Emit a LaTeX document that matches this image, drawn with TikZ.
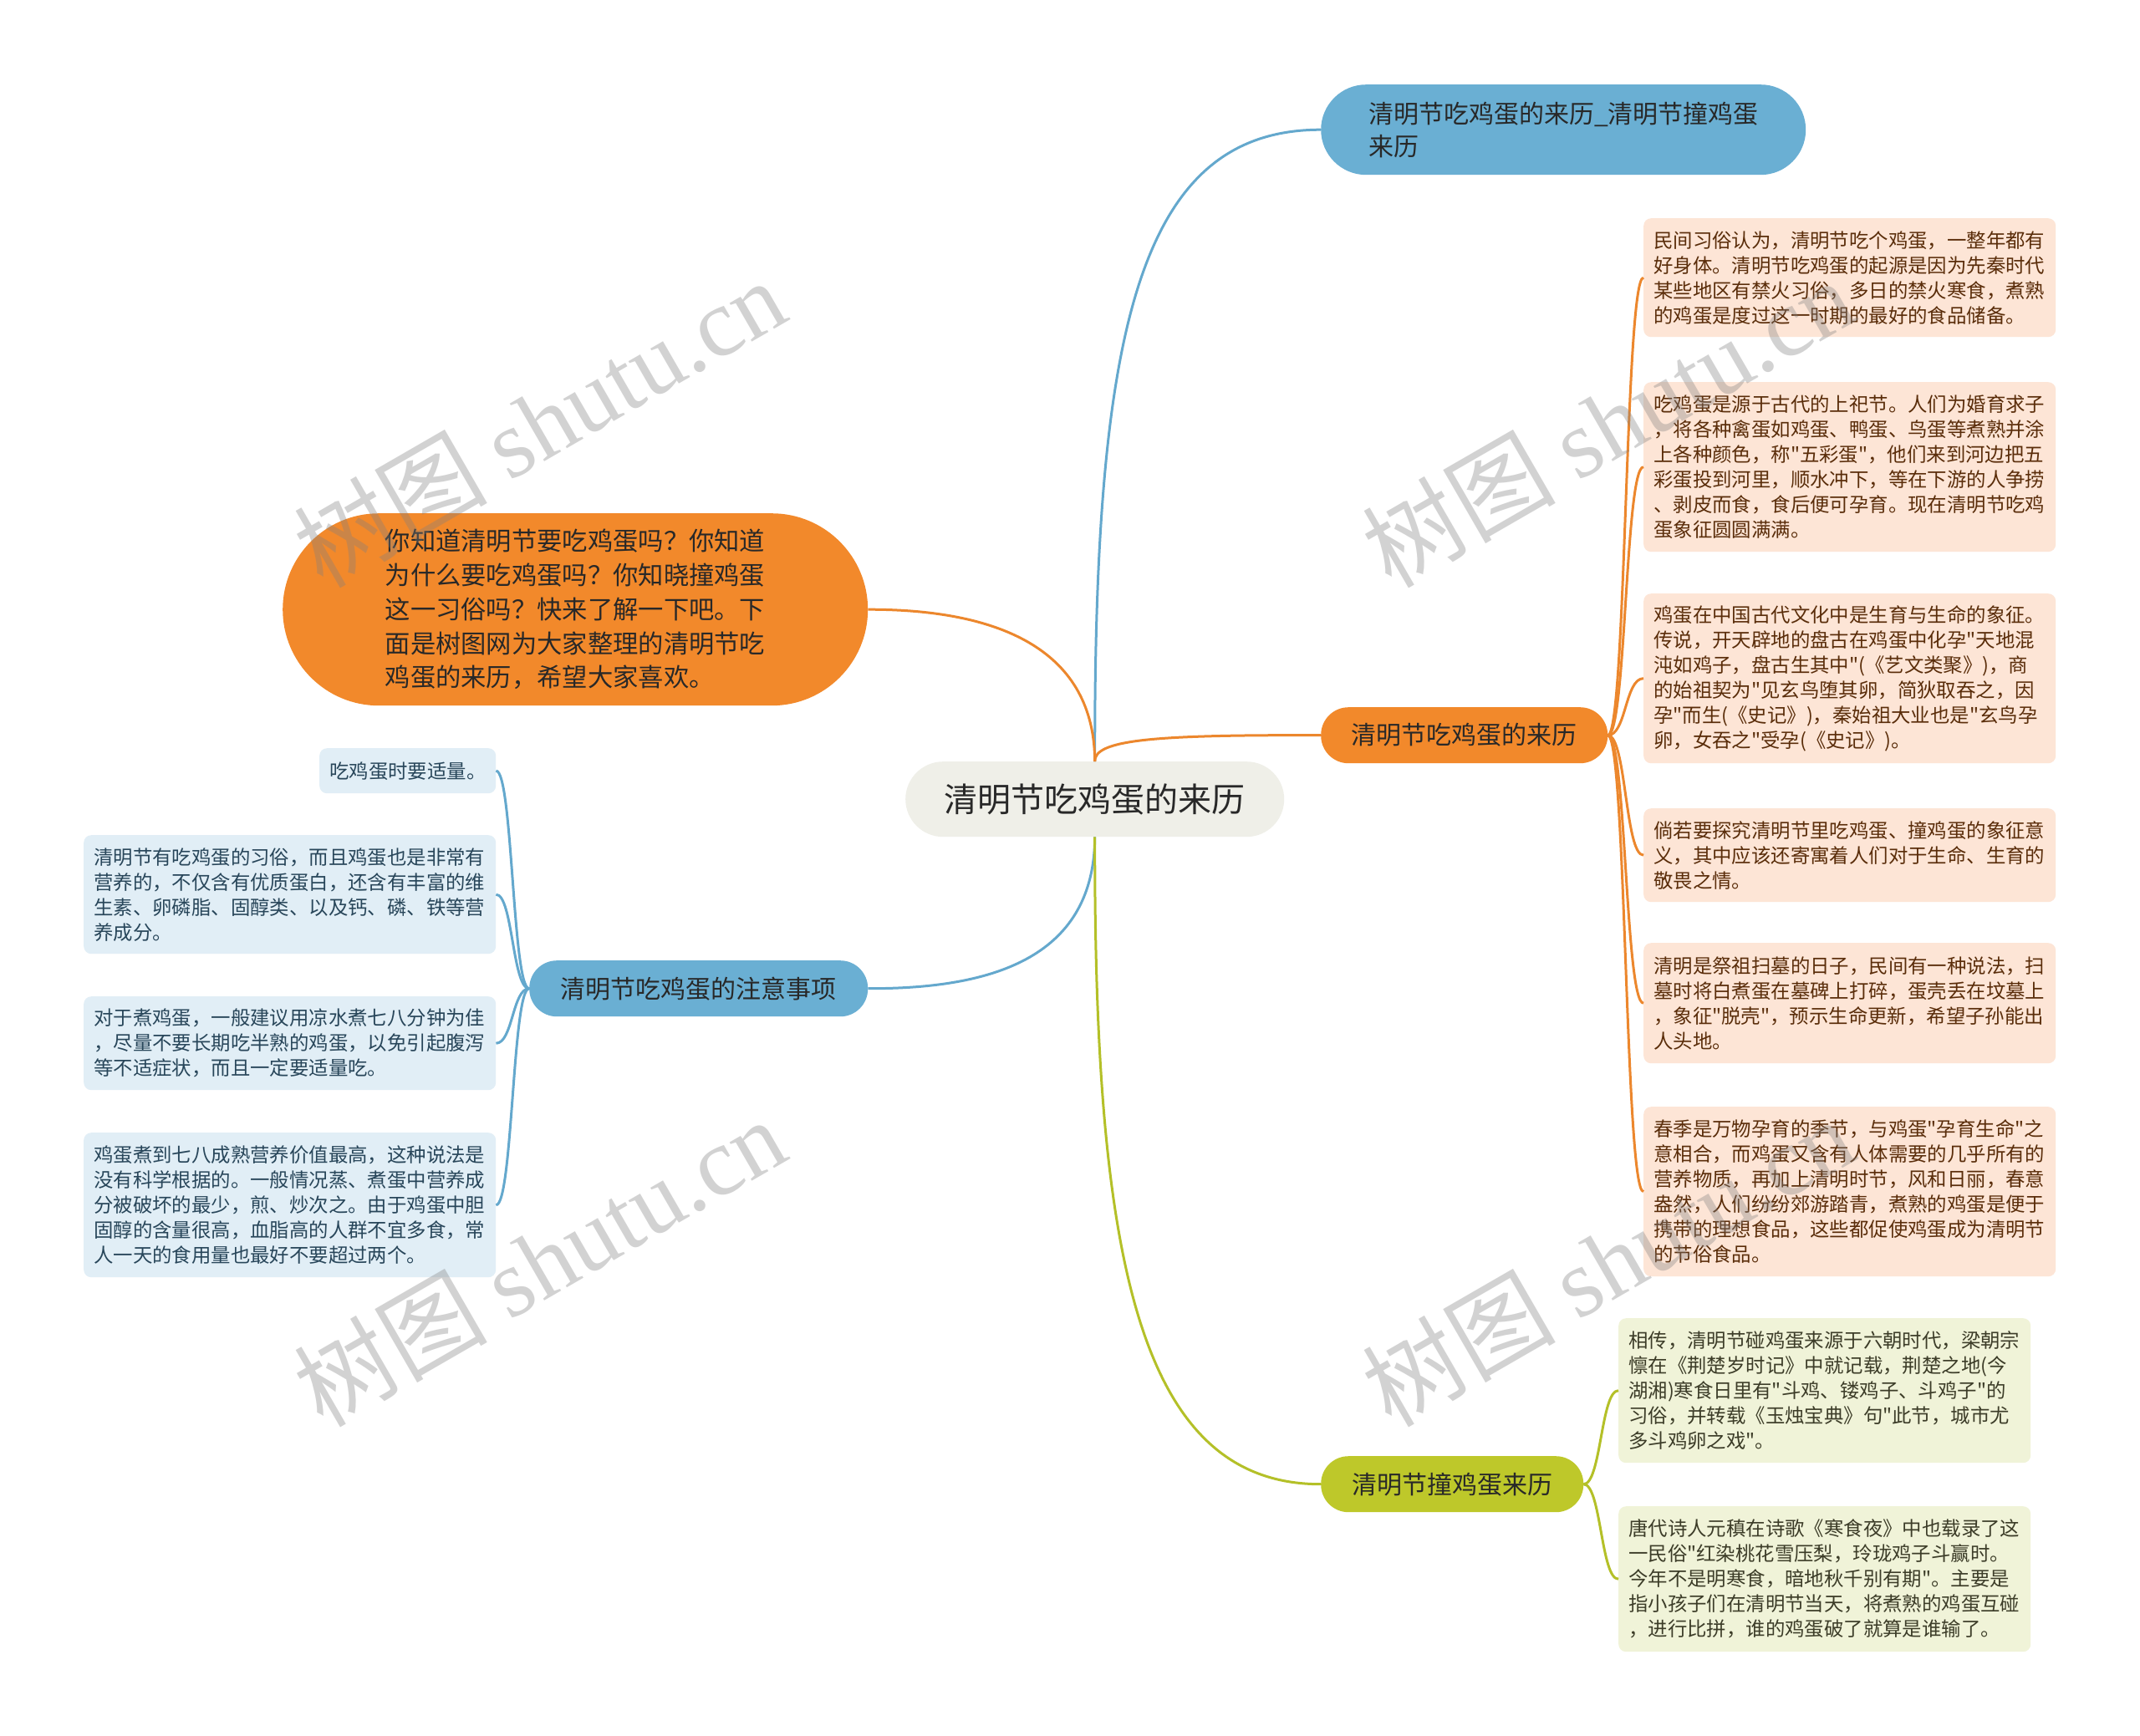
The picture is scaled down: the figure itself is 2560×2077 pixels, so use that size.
\documentclass[tikz,border=0pt]{standalone}
\usepackage{fontspec}
\usetikzlibrary{calc}
\setmainfont{Noto Sans CJK SC}
\newfontfamily\cjk{Noto Sans CJK SC}
\newfontfamily\wmlat{Liberation Serif}
\definecolor{bluebr}{RGB}{106,175,211}
\definecolor{bluel}{RGB}{100,168,205}
\definecolor{orabr}{RGB}{242,137,43}
\definecolor{oral}{RGB}{236,135,45}
\definecolor{grnbr}{RGB}{190,200,42}
\definecolor{grnl}{RGB}{180,192,40}
\definecolor{cfill}{RGB}{239,239,232}
\definecolor{oleaf}{RGB}{253,229,214}
\definecolor{gleaf}{RGB}{240,243,216}
\definecolor{bleaf}{RGB}{225,238,246}
\definecolor{otext}{RGB}{90,45,10}
\definecolor{gtext}{RGB}{60,60,40}
\definecolor{btext}{RGB}{40,70,90}
\definecolor{mtext}{RGB}{40,40,40}
\begin{document}
\begin{tikzpicture}[x=1pt,y=-1pt,
  leaf/.style={rectangle, rounded corners=9pt, anchor=north west, align=left,
    inner xsep=12pt, inner ysep=0pt, text width=469pt,
    font=\cjk\fontsize{23.4}{30}\selectfont},
  oleafbox/.style={leaf, fill=oleaf, text=otext},
  gleafbox/.style={leaf, fill=gleaf, text=gtext},
  bleafbox/.style={leaf, fill=bleaf, text=btext},
  branch/.style={rectangle, rounded corners=33pt, anchor=north west, inner sep=0pt,
    minimum height=67pt, text=mtext, font=\cjk\fontsize{30}{36}\selectfont},
  conn/.style={line width=3pt},
  wm/.style={rotate=30, text=gray, opacity=0.35, font=\cjk\fontsize{116}{124}\selectfont}
]
\useasboundingbox (0,0) rectangle (2560,2077);
\fill[white] (0,0) rectangle (2560,2077);

% center
\node[rectangle, rounded corners=45pt, fill=cfill, anchor=north west, inner sep=0pt,
  minimum width=453pt, minimum height=90pt, text=mtext,
  font=\cjk\fontsize{40}{48}\selectfont] (c) at (1083,911) {清明节吃鸡蛋的来历};

% top blue
\node[rectangle, rounded corners=54pt, fill=bluebr, anchor=north west, align=left,
  inner xsep=57pt, inner ysep=0pt, text width=466pt, minimum height=108pt, text=mtext,
  font=\cjk\fontsize{30}{39}\selectfont] (tb) at (1580,101)
  {清明节吃鸡蛋的来历\_清明节撞鸡蛋\\来历};

% intro
\node[rectangle, rounded corners=115pt, fill=orabr, anchor=north west, align=left,
  inner xsep=122.5pt, inner ysep=0pt, text width=455pt, minimum height=230pt, text=mtext,
  font=\cjk\fontsize{30.3}{40.8}\selectfont] (intro) at (338,614)
  {你知道清明节要吃鸡蛋吗？你知道\\为什么要吃鸡蛋吗？你知晓撞鸡蛋\\这一习俗吗？快来了解一下吧。下\\面是树图网为大家整理的清明节吃\\鸡蛋的来历，希望大家喜欢。};

% branches
\node[branch, fill=orabr, minimum width=343pt] (ob) at (1580,846) {清明节吃鸡蛋的来历};
\node[branch, fill=grnbr, minimum width=314pt] (gb) at (1580,1742) {清明节撞鸡蛋来历};
\node[branch, fill=bluebr, minimum width=405pt] (bb) at (633,1149) {清明节吃鸡蛋的注意事项};

% orange leaves
\node[oleafbox, minimum height=142pt] (o1) at (1966,261)
 {民间习俗认为，清明节吃个鸡蛋，一整年都有\\好身体。清明节吃鸡蛋的起源是因为先秦时代\\某些地区有禁火习俗，多日的禁火寒食，煮熟\\的鸡蛋是度过这一时期的最好的食品储备。};
\node[oleafbox, minimum height=203pt] (o2) at (1966,457)
 {吃鸡蛋是源于古代的上祀节。人们为婚育求子\\，将各种禽蛋如鸡蛋、鸭蛋、鸟蛋等煮熟并涂\\上各种颜色，称"五彩蛋"，他们来到河边把五\\彩蛋投到河里，顺水冲下，等在下游的人争捞\\、剥皮而食，食后便可孕育。现在清明节吃鸡\\蛋象征圆圆满满。};
\node[oleafbox, minimum height=203pt] (o3) at (1966,710)
 {鸡蛋在中国古代文化中是生育与生命的象征。\\传说，开天辟地的盘古在鸡蛋中化孕"天地混\\沌如鸡子，盘古生其中"(《艺文类聚》)，商\\的始祖契为"见玄鸟堕其卵，简狄取吞之，因\\孕"而生(《史记》)，秦始祖大业也是"玄鸟孕\\卵，女吞之"受孕(《史记》)。};
\node[oleafbox, minimum height=112pt] (o4) at (1966,967)
 {倘若要探究清明节里吃鸡蛋、撞鸡蛋的象征意\\义，其中应该还寄寓着人们对于生命、生育的\\敬畏之情。};
\node[oleafbox, minimum height=144pt] (o5) at (1966,1128)
 {清明是祭祖扫墓的日子，民间有一种说法，扫\\墓时将白煮蛋在墓碑上打碎，蛋壳丢在坟墓上\\，象征"脱壳"，预示生命更新，希望子孙能出\\人头地。};
\node[oleafbox, minimum height=203pt] (o6) at (1966,1324)
 {春季是万物孕育的季节，与鸡蛋"孕育生命"之\\意相合，而鸡蛋又含有人体需要的几乎所有的\\营养物质，再加上清明时节，风和日丽，春意\\盎然，人们纷纷郊游踏青，煮熟的鸡蛋是便于\\携带的理想食品，这些都促使鸡蛋成为清明节\\的节俗食品。};

% green leaves
\node[gleafbox, minimum height=173pt] (g1) at (1936,1577)
 {相传，清明节碰鸡蛋来源于六朝时代，梁朝宗\\懔在《荆楚岁时记》中就记载，荆楚之地(今\\湖湘)寒食日里有"斗鸡、镂鸡子、斗鸡子"的\\习俗，并转载《玉烛宝典》句"此节，城市尤\\多斗鸡卵之戏"。};
\node[gleafbox, minimum height=174pt] (g2) at (1936,1802)
 {唐代诗人元稹在诗歌《寒食夜》中也载录了这\\一民俗"红染桃花雪压梨，玲珑鸡子斗赢时。\\今年不是明寒食，暗地秋千别有期"。主要是\\指小孩子们在清明节当天，将煮熟的鸡蛋互碰\\，进行比拼，谁的鸡蛋破了就算是谁输了。};

% blue leaves
\node[bleafbox, text width=187pt, minimum height=54pt] (b1) at (382,895) {吃鸡蛋时要适量。};
\node[bleafbox, minimum height=142pt] (b2) at (100,999)
 {清明节有吃鸡蛋的习俗，而且鸡蛋也是非常有\\营养的，不仅含有优质蛋白，还含有丰富的维\\生素、卵磷脂、固醇类、以及钙、磷、铁等营\\养成分。};
\node[bleafbox, minimum height=112pt] (b3) at (100,1192)
 {对于煮鸡蛋，一般建议用凉水煮七八分钟为佳\\，尽量不要长期吃半熟的鸡蛋，以免引起腹泻\\等不适症状，而且一定要适量吃。};
\node[bleafbox, minimum height=173pt] (b4) at (100,1355)
 {鸡蛋煮到七八成熟营养价值最高，这种说法是\\没有科学根据的。一般情况蒸、煮蛋中营养成\\分被破坏的最少，煎、炒次之。由于鸡蛋中胆\\固醇的含量很高，血脂高的人群不宜多食，常\\人一天的食用量也最好不要超过两个。};

% main connectors
\draw[conn, bluel] (c.north) .. controls (1309,400) and (1360,155) .. (tb.west);
\draw[conn, oral] (c.north) .. controls (1309,780) and (1200,729) .. (intro.east);
\draw[conn, oral] (c.north) .. controls (1309,885) and (1380,879) .. (ob.west);
\draw[conn, bluel] (c.south) .. controls (1309,1150) and (1180,1183) .. (bb.east);
\draw[conn, grnl] (c.south) .. controls (1309,1500) and (1360,1776) .. (gb.west);

% leaf connectors
\foreach \n in {o1,o2,o3,o4,o5,o6}{
  \draw[conn, oral] (ob.east) .. controls ($(ob.east)+(22,0)$) and ($(\n.west)+(-22,0)$) .. (\n.west);
}
\foreach \n in {g1,g2}{
  \draw[conn, grnl] (gb.east) .. controls ($(gb.east)+(21,0)$) and ($(\n.west)+(-21,0)$) .. (\n.west);
}
\foreach \n in {b1,b2,b3,b4}{
  \draw[conn, bluel] (bb.west) .. controls ($(bb.west)+(-20,0)$) and ($(\n.east)+(20,0)$) .. (\n.east);
}

% watermarks
\node[wm] (w1) at (645,505) {树图 {\wmlat shutu.cn}};
\node[wm] (w2) at (1923,505) {树图 {\wmlat shutu.cn}};
\node[wm] (w3) at (645,1509) {树图 {\wmlat shutu.cn}};
\node[wm] (w4) at (1923,1509) {树图 {\wmlat shutu.cn}};
\end{tikzpicture}
\end{document}
